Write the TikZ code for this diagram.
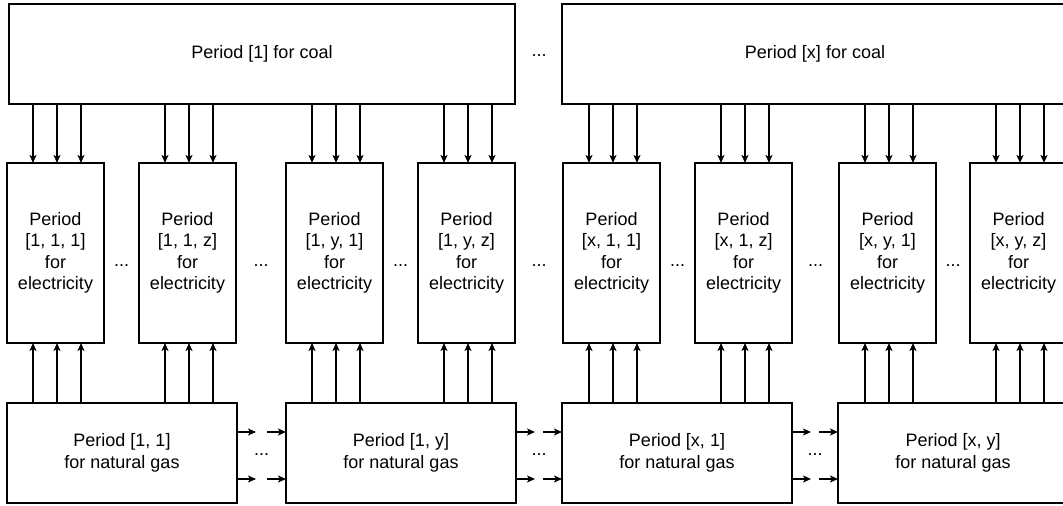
\documentclass[tikz,border=0pt]{standalone}
\usepackage{fontspec}
\setmainfont{Liberation Sans}
\usetikzlibrary{arrows.meta,calc}
\begin{document}
\begin{tikzpicture}[x=0.5pt,y=-0.5pt,
  txt/.style={font=\fontsize{9}{10.7}\selectfont, align=center},
  box/.style={txt, draw, line width=0.75pt, inner sep=0pt, outer sep=0pt},
  coalbox/.style={box, minimum width=253pt, minimum height=50pt},
  elecbox/.style={box, minimum width=48.5pt, minimum height=90pt},
  gasbox/.style={box, minimum width=115pt, minimum height=50pt},
  dots/.style={txt, inner sep=0pt},
  arr/.style={line width=0.75pt, -{Stealth[length=4pt,width=3.5pt,inset=1pt]}}]
\useasboundingbox (0,0) rectangle (1063,506);
\clip (0,0) rectangle (1063,506);
% coal
\node[coalbox] (c1) at (262,54) {Period [1] for coal};
\node[coalbox] (c2) at (815,54) {Period [x] for coal};
\node[dots] (dc) at (539,56) {...};
% electricity
\node[elecbox] (e1) at (55.5,253) {Period\\{}[1, 1, 1]\\for\\electricity};
\node[elecbox] (e2) at (187.5,253) {Period\\{}[1, 1, z]\\for\\electricity};
\node[elecbox] (e3) at (334.5,253) {Period\\{}[1, y, 1]\\for\\electricity};
\node[elecbox] (e4) at (466.5,253) {Period\\{}[1, y, z]\\for\\electricity};
\node[elecbox] (e5) at (611.5,253) {Period\\{}[x, 1, 1]\\for\\electricity};
\node[elecbox] (e6) at (743.5,253) {Period\\{}[x, 1, z]\\for\\electricity};
\node[elecbox] (e7) at (887.5,253) {Period\\{}[x, y, 1]\\for\\electricity};
\node[elecbox] (e8) at (1018.5,253) {Period\\{}[x, y, z]\\for\\electricity};
\foreach \x [count=\i] in {121.5,261,400.5,539,677.5,815.5,953}
  \node[dots] (de\i) at (\x,266) {...};
% natural gas
\node[gasbox] (g1) at (122,453) {Period [1, 1]\\for natural gas};
\node[gasbox] (g2) at (401,453) {Period [1, y]\\for natural gas};
\node[gasbox] (g3) at (677,453) {Period [x, 1]\\for natural gas};
\node[gasbox] (g4) at (953,453) {Period [x, y]\\for natural gas};
% vertical arrows
\foreach \e/\c/\g in {e1/c1/g1,e2/c1/g1,e3/c1/g2,e4/c1/g2,e5/c2/g3,e6/c2/g3,e7/c2/g4,e8/c2/g4}
  \foreach \d in {26,50,74} {
    \coordinate (t) at ($(\e.north west)+(\d,0)$);
    \coordinate (b) at ($(\e.south west)+(\d,0)$);
    \draw[arr] (t |- \c.south) -- (t);
    \draw[arr] (b |- \g.north) -- (b);
  }
% horizontal arrows between gas periods
\foreach \a/\b [count=\i] in {g1/g2,g2/g3,g3/g4} {
  \foreach \o in {29,76} {
    \coordinate (s) at ($(\a.north east)+(0,\o)$);
    \coordinate (s2) at ($(s)+(19,0)$);
    \coordinate (r) at ($(\b.north west)+(0,\o)$);
    \coordinate (r2) at ($(r)+(-19,0)$);
    \draw[arr] (s) -- (s2);
    \draw[arr] (r2) -- (r);
  }
  \node[dots] (dg\i) at ($(\a.east)!0.5!(\b.west)+(0,2)$) {...};
}
\end{tikzpicture}
\end{document}
